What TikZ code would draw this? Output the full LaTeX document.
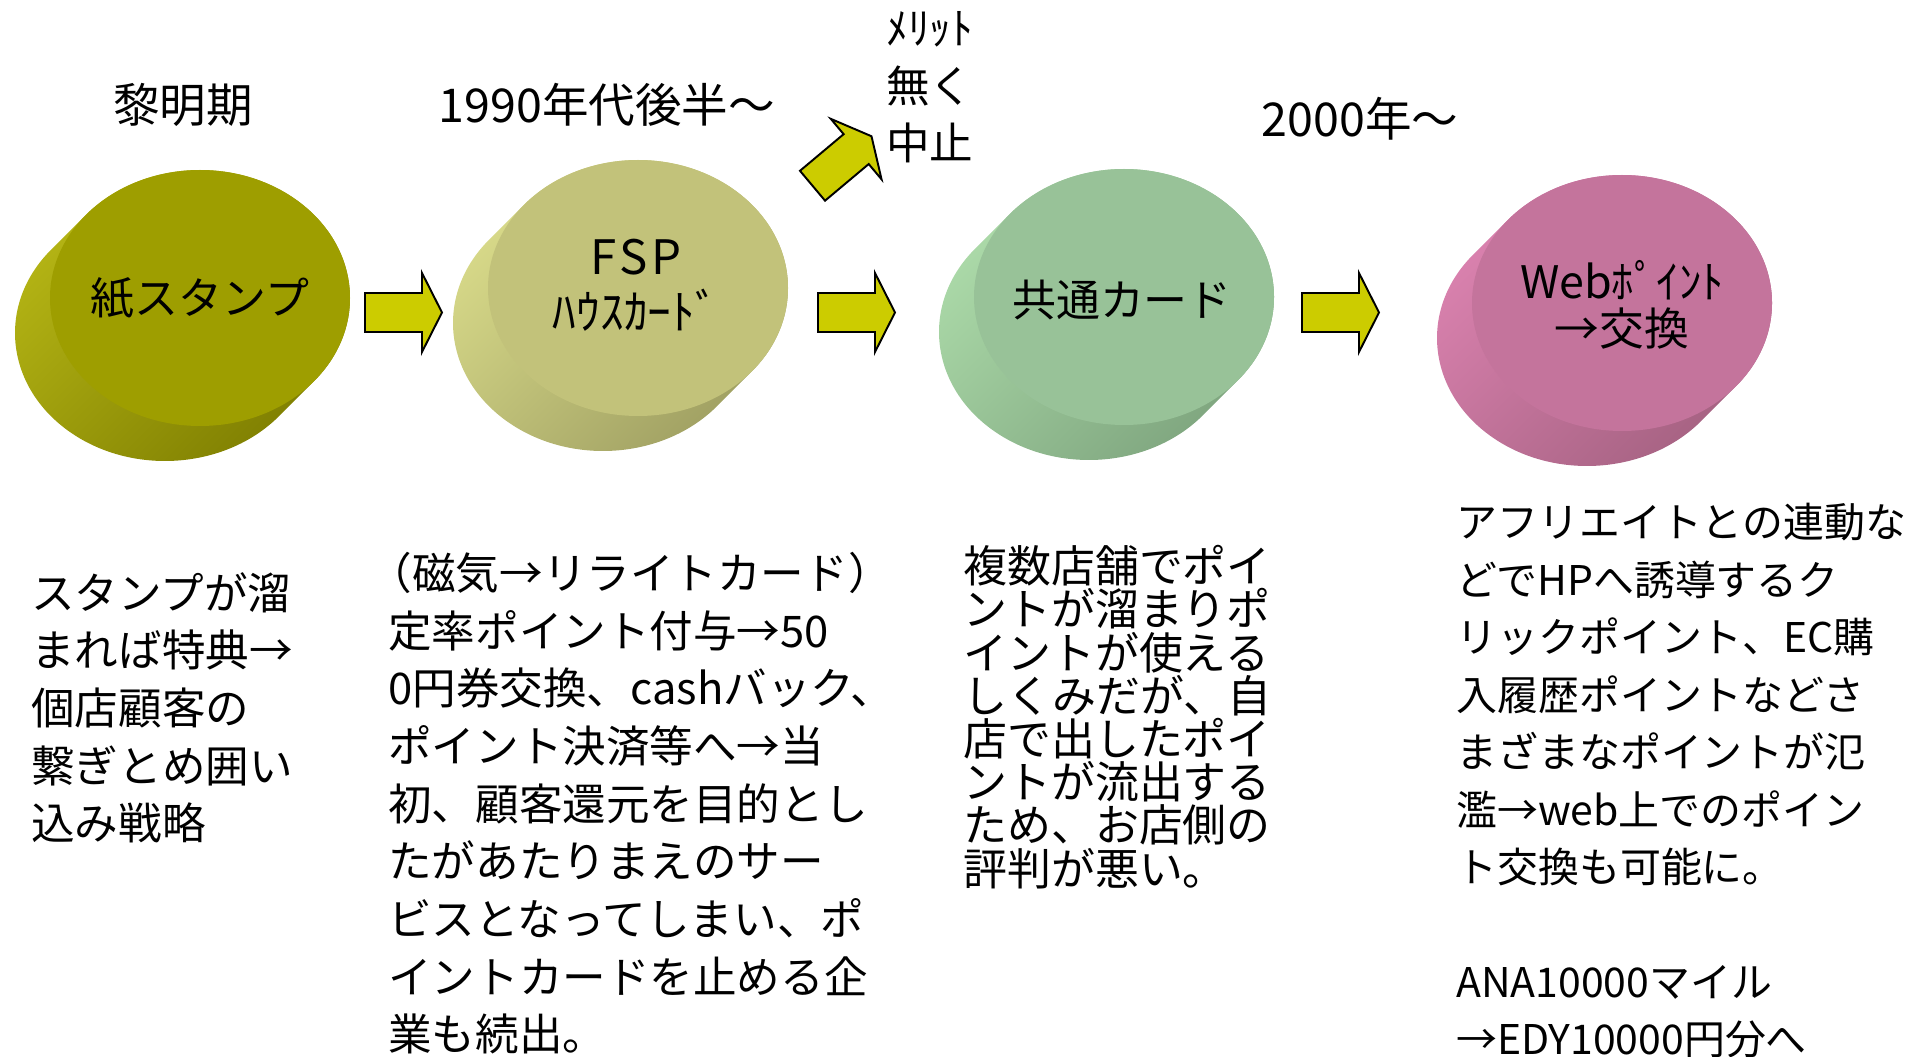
\documentclass[tikz,border=0pt]{standalone}
\usepackage{fontspec}
\setmainfont{Noto Sans CJK JP}
\usepackage{xcolor}
\usetikzlibrary{positioning,calc}
\definecolor{olivefront}{HTML}{9E9E00}
\definecolor{olivelight}{HTML}{B8B816}
\definecolor{olivedark}{HTML}{7C7C00}
\definecolor{khakifront}{HTML}{C2C27A}
\definecolor{khakilight}{HTML}{DCDE8C}
\definecolor{khakidark}{HTML}{9C9C60}
\definecolor{greenfront}{HTML}{98C298}
\definecolor{greenlight}{HTML}{AFDEAC}
\definecolor{greendark}{HTML}{7CA27C}
\definecolor{pinkfront}{HTML}{C4749C}
\definecolor{pinklight}{HTML}{DE84B2}
\definecolor{pinkdark}{HTML}{A2607F}
\definecolor{arrowyellow}{HTML}{CCCC00}
\tikzset{
  eratxt/.style={inner sep=0pt, font=\fontsize{26.5}{32}\selectfont},
  disctxt/.style={inner sep=0pt, align=center, font=\fontsize{25}{29}\selectfont},
  notetxt/.style={inner sep=0pt, align=left, anchor=north west, font=\fontsize{24.8}{32.8}\selectfont},
  arrowfill/.style={draw=black, fill=arrowyellow, line width=1.1pt, line join=miter},
  fatarrow/.pic={\draw[arrowfill] (-38.5,-19.5) -- (18.5,-19.5) -- (18.5,-39.5) -- (38.5,0)
    -- (18.5,39.5) -- (18.5,19.5) -- (-38.5,19.5) -- cycle;},
}
% disc: centre, face colour, light side, dark side
\newcommand{\coin}[4]{%
  \path[top color=#3, bottom color=#4, shading angle=45]
    (#1) ++(139.52:150 and 128) arc[start angle=139.52, end angle=-40.48, x radius=150, y radius=128]
    -- ++(-35,-35) arc[start angle=-40.48, end angle=-220.48, x radius=150, y radius=128] -- cycle;
  \fill[#2] (#1) ellipse[x radius=150, y radius=128];
}

\begin{document}
\begin{tikzpicture}[x=0.02cm, y=0.02cm]
\useasboundingbox (0,0) rectangle (1930,1056);
\coordinate (paper) at (200,758);
\coordinate (house) at (638,768);
\coordinate (shared) at (1124,759);
\coordinate (web) at (1622,753);

\coin{paper}{olivefront}{olivelight}{olivedark}
\coin{house}{khakifront}{khakilight}{khakidark}
\coin{shared}{greenfront}{greenlight}{greendark}
\coin{web}{pinkfront}{pinklight}{pinkdark}

\node[disctxt] (paperlab) at (paper) {紙スタンプ};
\node[disctxt, font=\fontsize{27}{31}\selectfont] (houselab) at ($(house)+(-2,3)$) {F\kern2pt S\kern2pt P\\ﾊｳｽｶｰﾄﾞ};
\node[disctxt] (sharedlab) at ($(shared)+(-2,-3)$) {共通カード};
\node[disctxt, font=\fontsize{25.5}{27}\selectfont] (weblab) at ($(web)+(0,-2)$) {Webﾎﾟｲﾝﾄ\\→交換};

% steps
\pic (a1) at (403.5,743.5) {fatarrow};
\pic (a2) at (856.5,743.5) {fatarrow};
\pic (a3) at (1340.5,743.5) {fatarrow};
\pic[rotate=40] (quit) at (842,895) {fatarrow};

\node[eratxt] (dawn) at (183,951) {黎明期};
\node[eratxt] (late90) at (607,951) {1990年代後半～};
\node[eratxt] (y2000) at (1360,937) {2000年～};
\node[notetxt] (stop) at (886,1045) {ﾒﾘｯﾄ\\無く\\中止};

\node[notetxt] (stampnote) at (31,484) {スタンプが溜\\まれば特典→\\個店顧客の\\繋ぎとめ囲い\\込み戦略};
\node[notetxt] (fspnote) at (388,504) {\kern-0.45em（磁気→リライトカード）\\定率ポイント付与→50\\0円券交換、cashバック、\\ポイント決済等へ→当\\初、顧客還元を目的とし\\たがあたりまえのサー\\ビスとなってしまい、ポ\\イントカードを止める企\\業も続出。};
\node[notetxt, font=\fontsize{25}{24.6}\selectfont] (sharednote) at (963,511) {\lineskiplimit=-20pt\relax 複数店舗でポイ\\ントが溜まりポ\\イントが使える\\しくみだが、自\\店で出したポイ\\ントが流出する\\ため、お店側の\\評判が悪い。};
\node[notetxt, font=\fontsize{23.3}{32.7}\selectfont] (webnote) at (1456,553) {アフリエイトとの連動な\\どでHPへ誘導するク\\リックポイント、EC購\\入履歴ポイントなどさ\\まざまなポイントが氾\\濫→web上でのポイン\\ト交換も可能に。\\[32.7pt]ANA10000マイル\\→EDY10000円分へ};
\end{tikzpicture}
\end{document}
